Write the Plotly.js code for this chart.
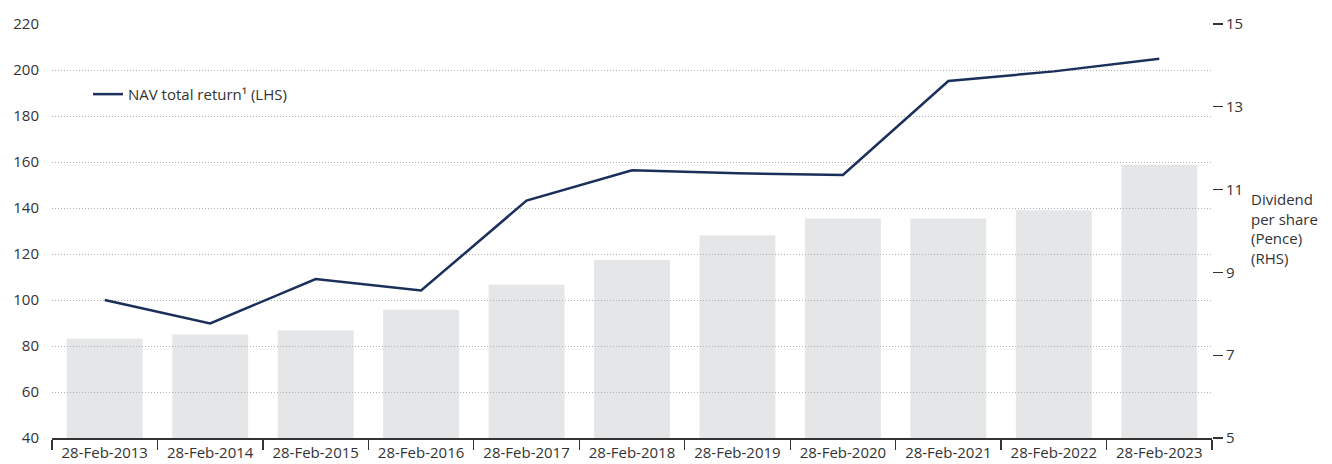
<!DOCTYPE html>
<html>
<head>
<meta charset="utf-8">
<script src="https://cdn.plot.ly/plotly-3.0.1.min.js"></script>
<style>html,body{margin:0;padding:0;background:#fff;}#chart{width:1332px;height:464px;}</style>
</head>
<body>
<div id="chart"></div>
<script>
const categories = ["28-Feb-2013","28-Feb-2014","28-Feb-2015","28-Feb-2016","28-Feb-2017","28-Feb-2018","28-Feb-2019","28-Feb-2020","28-Feb-2021","28-Feb-2022","28-Feb-2023"];
const dividendPence = [7.4, 7.5, 7.6, 8.1, 8.7, 9.3, 9.9, 10.3, 10.3, 10.5, 11.6];
const navTotalReturn = [100, 89.8, 109.1, 104.1, 143.2, 156.4, 155.1, 154.4, 195.2, 199.4, 204.9];
const leftTicks = [40, 60, 80, 100, 120, 140, 160, 180, 200, 220];
const rightTicks = [5, 7, 9, 11, 13, 15];

const FONT = "Open Sans, Noto Sans, sans-serif";
const TXT = "#333333";

const traces = [
  {
    type: "bar",
    x: categories,
    y: dividendPence,
    yaxis: "y",
    marker: {color: "rgba(181,182,188,0.35)"},
    showlegend: false,
    hoverinfo: "skip"
  },
  {
    type: "scatter",
    mode: "lines",
    x: categories,
    y: navTotalReturn,
    yaxis: "y2",
    name: "NAV total return¹ (LHS)",
    line: {color: "#1a2f5a", width: 2.5}
  }
];

const layout = {
  width: 1332,
  height: 464,
  margin: {l: 52, r: 120, t: 24, b: 26},
  paper_bgcolor: "#ffffff",
  plot_bgcolor: "rgba(0,0,0,0)",
  font: {family: FONT, size: 15, color: TXT},
  bargap: 0.28,
  showlegend: true,
  legend: {x: 0.03, y: 0.83, xanchor: "left", yanchor: "middle", bgcolor: "rgba(0,0,0,0)", font: {size: 15, color: TXT}},
  xaxis: {
    type: "category",
    tickson: "boundaries",
    ticks: "outside",
    ticklen: 10,
    tickcolor: "#333333",
    tickwidth: 1.2,
    showline: true,
    linecolor: "#333333",
    linewidth: 1.5,
    showgrid: false,
    tickfont: {size: 15, color: TXT},
    fixedrange: true
  },
  yaxis: {
    side: "right",
    range: [5, 15],
    tickvals: rightTicks,
    ticks: "outside",
    ticklen: 10,
    tickcolor: "#333333",
    tickwidth: 1.2,
    showgrid: false,
    zeroline: false,
    showline: false,
    tickfont: {size: 15, color: TXT},
    ticklabelstandoff: 0
  },
  yaxis2: {
    overlaying: "y",
    side: "left",
    range: [40, 220],
    tickvals: leftTicks,
    ticks: "",
    showgrid: true,
    gridcolor: "#b0b0b0",
    griddash: "1px,2px",
    gridwidth: 1,
    zeroline: false,
    showline: false,
    tickfont: {size: 15, color: TXT},
    ticklabelstandoff: 12
  },
  annotations: [
    {
      xref: "paper", yref: "paper",
      x: 1.032, y: 0.507,
      xanchor: "left", yanchor: "middle",
      align: "left",
      showarrow: false,
      text: "Dividend<br>per share<br>(Pence)<br>(RHS)",
      font: {size: 15, color: TXT}
    }
  ]
};
layout.legend.x = (88 - 52) / (1332 - 52 - 120);

Plotly.newPlot("chart", traces, layout, {displayModeBar: false, staticPlot: true});
</script>
</body>
</html>
